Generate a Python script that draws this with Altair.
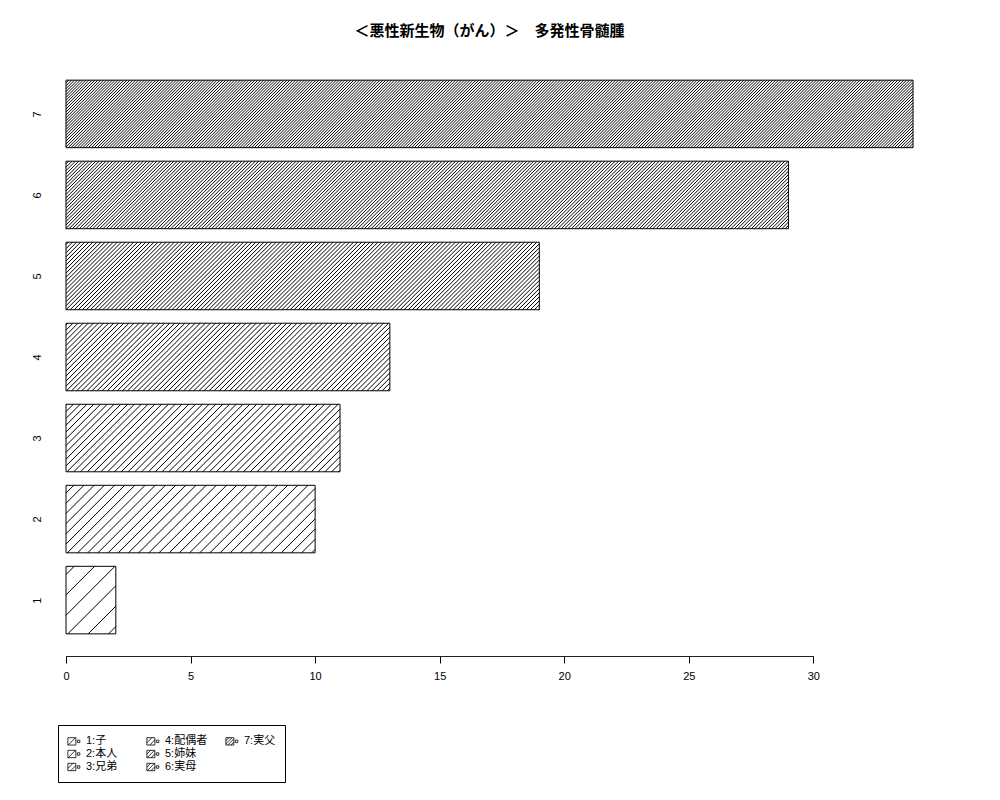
import math
import altair as alt
import pandas as pd

# ---- data ----
names = ["1", "2", "3", "4", "5", "6", "7"]
relations = ["子", "本人", "兄弟", "配偶者", "姉妹", "実母", "実父"]
counts = [2, 10, 11, 13, 19, 29, 34]
x_ticks = [0, 5, 10, 15, 20, 25, 30]
title_text = "＜悪性新生物（がん）＞　多発性骨髄腫"

# ---- style constants ----
densities = [5, 10, 15, 20, 25, 30, 35]  # hatch lines per inch (R style)
FONT = "Liberation Sans, Noto Sans CJK JP, sans-serif"
W, H = 847, 598

# bar geometry (R barplot: width 1, space 0.2)
n = len(names)
y_lo, y_hi = 0.2, 1.2 * n
ext = 0.04 * (y_hi - y_lo)
ymin, ymax = y_lo - ext, y_hi + ext
xmax = max(counts)

labels = [f"{a}:{b}" for a, b in zip(names, relations)]
bars = pd.DataFrame({
    "name": names,
    "label": labels,
    "value": counts,
    "start": [0] * n,
    "y0": [1.2 * (i + 1) - 1.0 for i in range(n)],
    "y1": [1.2 * (i + 1) for i in range(n)],
})
bars["yc"] = (bars["y0"] + bars["y1"]) / 2

# hatch segments computed from the bar values (45 deg in pixel space)
sx = W / xmax
sy = H / (ymax - ymin)
segs = []
for i in range(n):
    V = counts[i] * sx
    Y0 = (bars.loc[i, "y0"] - ymin) * sy
    Y1 = (bars.loc[i, "y1"] - ymin) * sy
    s = 72 * math.sqrt(2) / densities[i]
    k0 = math.ceil(-Y1 / s)
    k1 = math.floor((V - Y0) / s)
    for k in range(k0, k1 + 1):
        c = k * s
        lo = max(0.0, Y0 + c)
        hi = min(V, Y1 + c)
        if hi - lo > 0.3:
            segs.append({
                "x": lo / sx, "x2": hi / sx,
                "y": (lo - c) / sy + ymin, "y2": (hi - c) / sy + ymin,
            })
hatch = pd.DataFrame(segs)

# legend symbol paths: small hatched box + dot
def swatch_path(d):
    a, b, t, u = -1.0, 0.3, -0.6, 0.6
    p = f"M{a},{t}H{b}V{u}H{a}Z"
    nl = (d + 5) // 10
    cmin, cmax = a + t, b + u
    for j in range(nl):
        c = cmin + (cmax - cmin) * (j + 1) / (nl + 1)
        xa = max(a, c - u)
        xb = min(b, c - t)
        p += f"M{xa:.3f},{c - xa:.3f}L{xb:.3f},{c - xb:.3f}"
    p += "M0.55,-0.2H0.95V0.2H0.55Z"
    return p

# pad the legend grid to 3x3 so entries run down the columns
legend_domain = labels + [" ", "  "]
shape_range = [swatch_path(d) for d in densities] + ["M0,0", "M0,0"]

xscale = alt.Scale(domain=[0, xmax], nice=False, zero=True)
yscale = alt.Scale(domain=[ymin, ymax], nice=False, zero=False)

x_axis = alt.Axis(values=x_ticks, domain=False, grid=False, tickSize=7, tickColor="black",
                  labelFont=FONT, labelFontSize=11, labelColor="black", labelPadding=7,
                  labelFlush=False, title=None)
y_axis = alt.Axis(values=list(bars["yc"]), domain=False, ticks=False, grid=False,
                  labelAngle=270, labelFont=FONT, labelFontSize=11, labelColor="black",
                  labelPadding=24,
                  labelExpr="'' + round((datum.value + 0.5) / 1.2)", title=None)

base = alt.Chart(bars)

fill = base.mark_rect(fill="white", strokeWidth=0).encode(
    x=alt.X("start:Q", scale=xscale, axis=x_axis, title=None),
    x2="value:Q",
    y=alt.Y("y0:Q", scale=yscale, axis=y_axis, title=None),
    y2="y1:Q",
)

lines = alt.Chart(hatch).mark_rule(color="black", strokeWidth=1.0).encode(
    x=alt.X("x:Q", title=None), x2="x2:Q",
    y=alt.Y("y:Q", title=None), y2="y2:Q",
)

outline = base.mark_rect(fillOpacity=0, stroke="black", strokeWidth=1).encode(
    x=alt.X("start:Q", title=None), x2="value:Q",
    y=alt.Y("y0:Q", title=None), y2="y1:Q",
)

axis_line = alt.Chart(bars).mark_rule(color="#222222", strokeWidth=1).encode(
    x=alt.datum(min(x_ticks)), x2=alt.datum(max(x_ticks)), y=alt.datum(ymin - 0.5 / sy),
)

legend_pts = base.mark_point(opacity=0).encode(
    x=alt.X("start:Q", title=None),
    y=alt.Y("yc:Q", title=None),
    shape=alt.Shape("label:N", scale=alt.Scale(domain=legend_domain, range=shape_range),
                    title=None,
                    legend=alt.Legend(orient="none", legendX=-8, legendY=667, columns=3,
                                      symbolSize=150, symbolOpacity=1,
                                      symbolStrokeColor="black", symbolFillColor="transparent",
                                      symbolStrokeWidth=0.8, labelFont=FONT, labelFontSize=11,
                                      labelColor="black", labelOffset=5, rowPadding=0,
                                      columnPadding=16, gridAlign="all", padding=9,
                                      strokeColor="black", fillColor="white", cornerRadius=0)),
)

chart = alt.layer(fill, lines, outline, axis_line, legend_pts).properties(
    width=W, height=H,
    padding={"left": 58, "top": 50, "right": 60, "bottom": 134},
    autosize=alt.AutoSizeParams(type="none"),
    title=alt.TitleParams(text=title_text, font=FONT, fontSize=15, fontWeight="bold",
                          anchor="middle", offset=4, baseline="bottom", color="black"),
).configure_view(strokeWidth=0)

chart.save("out.html", embed_options={"renderer": "svg", "actions": False})
